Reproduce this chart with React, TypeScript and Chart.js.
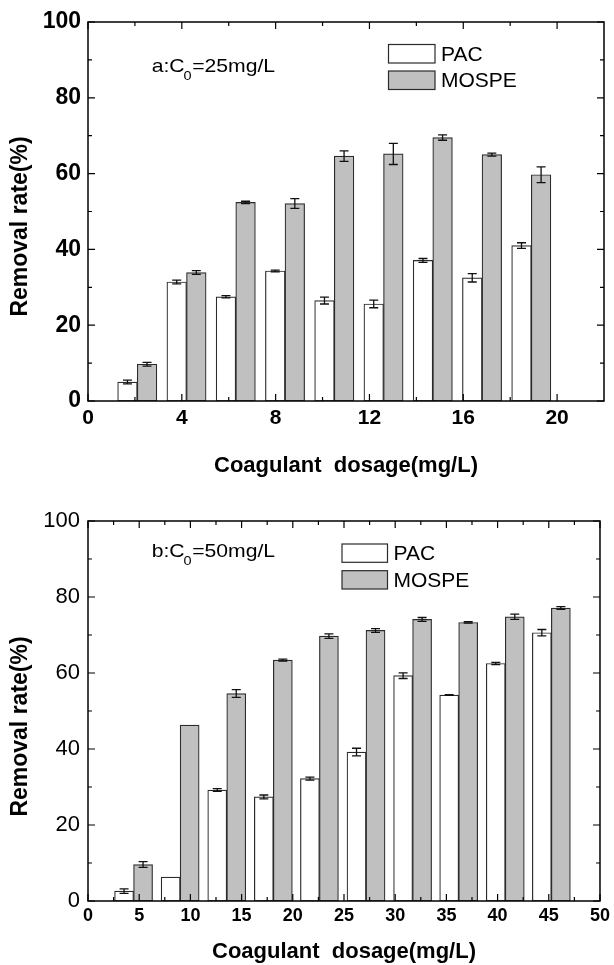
import React, { useEffect, useRef } from 'react';
import { Chart, registerables } from 'chart.js';

Chart.register(...registerables);

const FONT = '"Liberation Sans", Arial, Helvetica, sans-serif';

// ---------- Panel a (C0 = 25 mg/L) ----------
const topDosage = [2.1, 4.2, 6.3, 8.4, 10.5, 12.6, 14.7, 16.8, 18.9];
const topPAC = [5.0, 31.4, 27.5, 34.3, 26.5, 25.6, 37.1, 32.5, 41.0];
const topPACErr = [0.5, 0.5, 0.3, 0.25, 0.9, 1.0, 0.5, 1.1, 0.75];
const topMOSPE = [9.7, 33.9, 52.4, 52.1, 64.6, 65.2, 69.5, 65.0, 59.7];
const topMOSPEErr = [0.5, 0.5, 0.3, 1.3, 1.4, 2.8, 0.7, 0.4, 2.1];
const topXTicks = [0, 4, 8, 12, 16, 20];
const topXMinor = [2, 6, 10, 14, 18];
const topYTicks = [0, 20, 40, 60, 80, 100];
const topYMinor = [10, 30, 50, 70, 90];

// ---------- Panel b (C0 = 50 mg/L) ----------
const botDosage = [4.45, 9.0, 13.55, 18.1, 22.6, 27.15, 31.7, 36.2, 40.75, 45.25];
const botPAC = [2.6, 6.3, 29.2, 27.4, 32.2, 39.2, 59.3, 54.2, 62.5, 70.6];
const botPACErr = [0.6, 0, 0.35, 0.5, 0.4, 1.0, 0.75, 0.1, 0.3, 0.85];
const botMOSPE = [9.6, 46.3, 54.6, 63.4, 69.7, 71.2, 74.1, 73.3, 74.8, 77.1];
const botMOSPEErr = [0.75, 0, 1.0, 0.25, 0.6, 0.5, 0.5, 0.2, 0.7, 0.35];
const botXTicks = [0, 5, 10, 15, 20, 25, 30, 35, 40, 45, 50];
const botXMinor = [2.5, 7.5, 12.5, 17.5, 22.5, 27.5, 32.5, 37.5, 42.5, 47.5];
const botYTicks = [0, 20, 40, 60, 80, 100];
const botYMinor = [10, 30, 50, 70, 90];

const seriesNames = ['PAC', 'MOSPE'];
const xTitle = 'Coagulant  dosage(mg/L)';
const yTitle = 'Removal rate(%)';

const PAC_FILL = '#ffffff';
const MOSPE_FILL = '#c0c0c0';
const EDGE = '#2b2b2b';

type Spec = {
  height: number;
  xMax: number;
  dosage: number[];
  pac: number[];
  pacErr: number[];
  mospe: number[];
  mospeErr: number[];
  xTicks: number[];
  xMinor: number[];
  yTicks: number[];
  yMinor: number[];
  annotLead: string;
  annotTail: string;
  areaTop: number;
  areaBottom: number;
  barThickness: number;
  yTickFont: { size: number; weight: string };
  xTickFont: { size: number; weight: string };
  yTickPad: number;
  xTickPad: number;
  yTitleY: number;
  xTitleBaseline: number;
  annotX: number;
  annotBaseline: number;
  legendX: number;
  legendY1: number;
  legendY2: number;
  legendW: number;
  legendH: number;
};

const AREA_LEFT = 88;
const AREA_RIGHT = 604;
const WIDTH = 614;

function makePlugin(spec: Spec) {
  return {
    id: 'decor',
    afterDatasetsDraw(chart: any) {
      const ctx = chart.ctx as CanvasRenderingContext2D;
      const ys = chart.scales.y;
      const errs = [spec.pacErr, spec.mospeErr];
      const vals = [spec.pac, spec.mospe];
      ctx.save();
      ctx.strokeStyle = '#111';
      ctx.lineWidth = 1.3;
      for (let d = 0; d < 2; d++) {
        const meta = chart.getDatasetMeta(d);
        meta.data.forEach((el: any, i: number) => {
          const e = errs[d][i];
          if (!e) return;
          const v = vals[d][i];
          const x = el.x;
          const y1 = ys.getPixelForValue(v + e);
          const y2 = ys.getPixelForValue(v - e);
          ctx.beginPath();
          ctx.moveTo(x, y1);
          ctx.lineTo(x, y2);
          ctx.moveTo(x - 4.5, y1);
          ctx.lineTo(x + 4.5, y1);
          ctx.moveTo(x - 4.5, y2);
          ctx.lineTo(x + 4.5, y2);
          ctx.stroke();
        });
      }
      ctx.restore();
    },
    afterDraw(chart: any) {
      const ctx = chart.ctx as CanvasRenderingContext2D;
      const a = chart.chartArea;
      const xs = chart.scales.x;
      const ys = chart.scales.y;
      ctx.save();
      // frame
      ctx.strokeStyle = '#000';
      ctx.lineWidth = 1.5;
      ctx.strokeRect(a.left, a.top, a.right - a.left, a.bottom - a.top);
      // ticks (inward)
      ctx.lineWidth = 1.2;
      ctx.beginPath();
      const xt = (vals: number[], len: number) => {
        vals.forEach((v) => {
          const p = xs.getPixelForValue(v);
          ctx.moveTo(p, a.bottom);
          ctx.lineTo(p, a.bottom - len);
          ctx.moveTo(p, a.top);
          ctx.lineTo(p, a.top + len);
        });
      };
      const yt = (vals: number[], len: number) => {
        vals.forEach((v) => {
          const p = ys.getPixelForValue(v);
          ctx.moveTo(a.left, p);
          ctx.lineTo(a.left + len, p);
          ctx.moveTo(a.right, p);
          ctx.lineTo(a.right - len, p);
        });
      };
      xt(spec.xTicks, 7);
      xt(spec.xMinor, 4);
      yt(spec.yTicks, 7);
      yt(spec.yMinor, 4);
      ctx.stroke();

      ctx.fillStyle = '#000';
      // y title
      ctx.save();
      ctx.translate(27, spec.yTitleY);
      ctx.rotate(-Math.PI / 2);
      ctx.font = `bold 23px ${FONT}`;
      ctx.textAlign = 'center';
      ctx.textBaseline = 'alphabetic';
      ctx.fillText(yTitle, 0, 0);
      ctx.restore();
      // x title
      ctx.font = `bold 22px ${FONT}`;
      ctx.textAlign = 'center';
      ctx.textBaseline = 'alphabetic';
      ctx.fillText(xTitle, (a.left + a.right) / 2, spec.xTitleBaseline);

      // annotation with subscript
      ctx.textAlign = 'left';
      const mainFont = `19px ${FONT}`;
      const subFont = `13px ${FONT}`;
      ctx.font = mainFont;
      const w1 = ctx.measureText(spec.annotLead).width;
      const w3 = ctx.measureText(spec.annotTail).width;
      ctx.font = subFont;
      const w2 = ctx.measureText('0').width;
      const natural = w1 + w2 + w3;
      const sx = 124 / natural;
      ctx.save();
      ctx.translate(spec.annotX, spec.annotBaseline);
      ctx.scale(sx, 1);
      ctx.font = mainFont;
      ctx.fillText(spec.annotLead, 0, 0);
      ctx.font = subFont;
      ctx.fillText('0', w1 - 1, 8);
      ctx.font = mainFont;
      ctx.fillText(spec.annotTail, w1 + w2 - 0.5, 0);
      ctx.restore();

      // legend
      const fills = [PAC_FILL, MOSPE_FILL];
      const ys2 = [spec.legendY1, spec.legendY2];
      ctx.font = `21px ${FONT}`;
      ctx.textBaseline = 'middle';
      for (let i = 0; i < 2; i++) {
        ctx.fillStyle = fills[i];
        ctx.fillRect(spec.legendX, ys2[i], spec.legendW, spec.legendH);
        ctx.strokeStyle = EDGE;
        ctx.lineWidth = 1.2;
        ctx.strokeRect(spec.legendX, ys2[i], spec.legendW, spec.legendH);
        ctx.fillStyle = '#000';
        ctx.fillText(seriesNames[i], spec.legendX + spec.legendW + 6, ys2[i] + spec.legendH / 2 + 1);
      }
      ctx.restore();
    },
  };
}

function Panel({ spec }: { spec: Spec }) {
  const ref = useRef<HTMLCanvasElement>(null);
  useEffect(() => {
    const canvas = ref.current!;
    const chart = new Chart(canvas, {
      type: 'bar',
      data: {
        datasets: [
          {
            label: seriesNames[0],
            data: spec.dosage.map((x, i) => ({ x, y: spec.pac[i] })),
            backgroundColor: PAC_FILL,
            borderColor: EDGE,
            borderWidth: 1.2,
            borderSkipped: false,
            barThickness: spec.barThickness,
          },
          {
            label: seriesNames[1],
            data: spec.dosage.map((x, i) => ({ x, y: spec.mospe[i] })),
            backgroundColor: MOSPE_FILL,
            borderColor: EDGE,
            borderWidth: 1.2,
            borderSkipped: false,
            barThickness: spec.barThickness,
          },
        ],
      } as any,
      options: {
        responsive: false,
        animation: false,
        devicePixelRatio: 1,
        layout: { padding: { left: 0, right: WIDTH - AREA_RIGHT, top: spec.areaTop, bottom: 0 } },
        plugins: { legend: { display: false }, tooltip: { enabled: false } },
        scales: {
          x: {
            type: 'linear',
            min: 0,
            max: spec.xMax,
            offset: false,
            grid: { display: false, drawTicks: false },
            border: { display: false },
            afterBuildTicks: (s: any) => {
              s.ticks = spec.xTicks.map((v) => ({ value: v }));
            },
            afterFit: (s: any) => {
              s.height = spec.height - spec.areaBottom;
            },
            ticks: {
              color: '#000',
              padding: spec.xTickPad,
              maxRotation: 0,
              autoSkip: false,
              font: { family: FONT, size: spec.xTickFont.size, weight: spec.xTickFont.weight as any },
            },
          },
          y: {
            type: 'linear',
            min: 0,
            max: 100,
            grid: { display: false, drawTicks: false },
            border: { display: false },
            afterBuildTicks: (s: any) => {
              s.ticks = spec.yTicks.map((v) => ({ value: v }));
            },
            afterFit: (s: any) => {
              s.width = AREA_LEFT;
            },
            ticks: {
              color: '#000',
              padding: spec.yTickPad,
              autoSkip: false,
              font: { family: FONT, size: spec.yTickFont.size, weight: spec.yTickFont.weight as any },
            },
          },
        },
      } as any,
      plugins: [makePlugin(spec)],
    });
    return () => chart.destroy();
  }, [spec]);
  return (
    <canvas
      ref={ref}
      width={WIDTH}
      height={spec.height}
      style={{ display: 'block', width: WIDTH, height: spec.height }}
    />
  );
}

const topSpec: Spec = {
  height: 480,
  xMax: 22,
  dosage: topDosage,
  pac: topPAC,
  pacErr: topPACErr,
  mospe: topMOSPE,
  mospeErr: topMOSPEErr,
  xTicks: topXTicks,
  xMinor: topXMinor,
  yTicks: topYTicks,
  yMinor: topYMinor,
  annotLead: 'a:C',
  annotTail: '=25mg/L',
  areaTop: 22,
  areaBottom: 401,
  barThickness: 19.6,
  yTickFont: { size: 23, weight: 'bold' },
  xTickFont: { size: 21, weight: 'bold' },
  yTickPad: 7,
  xTickPad: 5,
  yTitleY: 226.5,
  xTitleBaseline: 471.5,
  annotX: 151.7,
  annotBaseline: 71.7,
  legendX: 388.5,
  legendY1: 44.5,
  legendY2: 71,
  legendW: 46.5,
  legendH: 18.5,
};

const botSpec: Spec = {
  height: 485,
  xMax: 50,
  dosage: botDosage,
  pac: botPAC,
  pacErr: botPACErr,
  mospe: botMOSPE,
  mospeErr: botMOSPEErr,
  xTicks: botXTicks,
  xMinor: botXMinor,
  yTicks: botYTicks,
  yMinor: botYMinor,
  annotLead: 'b:C',
  annotTail: '=50mg/L',
  areaTop: 41,
  areaBottom: 421,
  barThickness: 19,
  yTickFont: { size: 22, weight: 'normal' },
  xTickFont: { size: 18, weight: 'bold' },
  yTickPad: 8,
  xTickPad: 4,
  yTitleY: 246.5,
  xTitleBaseline: 478,
  annotX: 151.7,
  annotBaseline: 76.7,
  legendX: 342,
  legendY1: 64,
  legendY2: 90.7,
  legendW: 45.5,
  legendH: 18.3,
};

export default function App() {
  return (
    <div
      style={{
        position: 'absolute',
        left: 0,
        top: 0,
        width: WIDTH,
        height: 965,
        background: '#fff',
      }}
    >
      <Panel spec={topSpec} />
      <Panel spec={botSpec} />
    </div>
  );
}
